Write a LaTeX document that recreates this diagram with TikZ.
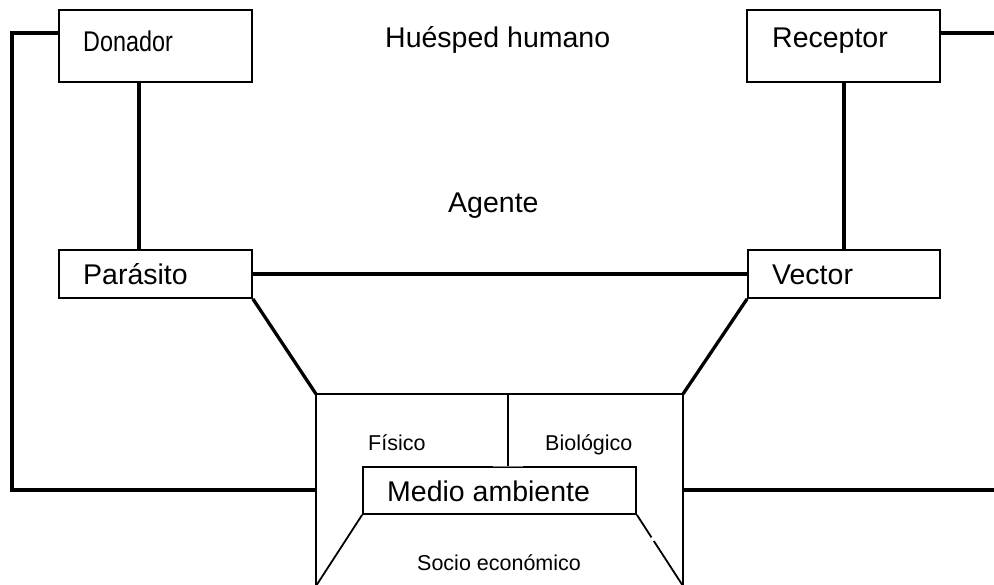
\documentclass[tikz,border=0pt]{standalone}
\usepackage{fontspec}
\setmainfont{Liberation Sans}
\begin{document}
\begin{tikzpicture}[x=1pt,y=-1pt,
  box/.style={draw, line width=1.8pt, rectangle, inner sep=0pt},
  thk/.style={line width=3.3pt},
  thn/.style={line width=1.8pt},
  big/.style={inner sep=0pt, anchor=base west, font=\fontsize{28.5}{34}\selectfont},
  small/.style={inner sep=0pt, anchor=base west, font=\fontsize{21.5}{26}\selectfont}]
\useasboundingbox (0,0) rectangle (994,585);
% boxes
\node[box, minimum width=193pt, minimum height=72pt] (don) at (155.5,46) {};
\node[box, minimum width=193pt, minimum height=72pt] (rec) at (843.5,46) {};
\node[box, minimum width=193pt, minimum height=48pt] (par) at (155.5,274) {};
\node[box, minimum width=192pt, minimum height=48pt] (vec) at (844,274) {};
\node[box, minimum width=273pt, minimum height=47pt] (med) at (499.5,490.5) {};
% labels
\node[big] (tdon) at (83,52) {\scalebox{0.82}[1]{Donador}};
\node[big] (trec) at (772,48) {Receptor};
\node[big] (thue) at (385,48) {Huésped humano};
\node[big] (tage) at (448,213) {Agente};
\node[big] (tpar) at (83,285) {Parásito};
\node[big] (tvec) at (772,285) {Vector};
\node[big] (tmed) at (387,501) {Medio ambiente};
\node[small] (tfis) at (368,450) {Físico};
\node[small] (tbio) at (545,450) {Biológico};
\node[small] (tsoc) at (417,570) {Socio económico};
% coordinates
\coordinate (dl) at (12,33);
\coordinate (ml) at (12,490);
\coordinate (rr) at (994,33);
\coordinate (mr) at (994,490);
\coordinate (tl) at (316,394);
\coordinate (tr) at (683,394);
\coordinate (bl) at (316,586);
\coordinate (br) at (683,586);
\coordinate (dv) at (139,0);
\coordinate (rv) at (844,0);
\coordinate (mv) at (508,394);
% connectors
\draw[thk] (don.west |- dl) -- (dl) -- (ml) -- (tl |- ml);
\draw[thk] (rec.east |- rr) -- (rr);
\draw[thk] (tr |- mr) -- (mr);
\draw[thk] (dv |- don.south) -- (dv |- par.north);
\draw[thk] (rv |- rec.south) -- (rv |- vec.north);
\draw[thk] (par.east) -- (vec.west);
\draw[thk] (par.south east) -- (tl);
\draw[thk] (vec.south west) -- (tr);
\draw[thn] (bl) -- (tl) -- (tr) -- (br);
\draw[thn] (mv) -- (mv |- med.north);
\draw[line width=1pt, gray] (493,466) -- (523,466);
\draw[thn] (med.south west) -- (bl);
\draw[thn] (med.south east) -- (br);
\fill[white] (653,539) circle (2.2pt);
\end{tikzpicture}
\end{document}
